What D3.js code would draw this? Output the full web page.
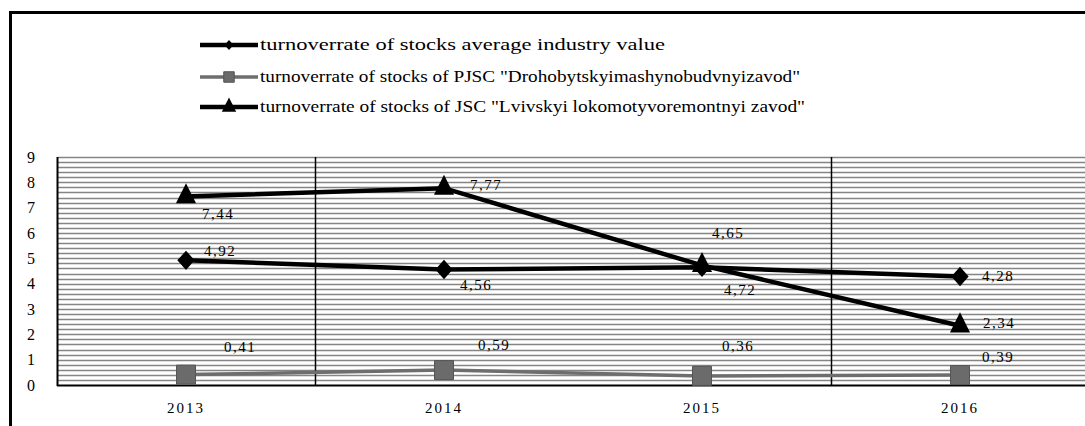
<!DOCTYPE html>
<html>
<head>
<meta charset="utf-8">
<script src="https://cdn.jsdelivr.net/npm/d3@7"></script>
<style>
  html, body { margin: 0; padding: 0; background: #fff; }
  svg text { font-family: "Liberation Serif", "Times New Roman", serif; fill: #000; }
</style>
</head>
<body>
<svg id="chart" width="1085" height="426"></svg>
<script>
/* data */
const years = ['2013', '2014', '2015', '2016'];
const averageIndustry = [4.92, 4.56, 4.65, 4.28];
const drohobytskyi = [0.41, 0.59, 0.36, 0.39];
const lvivskyi = [7.44, 7.77, 4.72, 2.34];
const yTicks = [0, 1, 2, 3, 4, 5, 6, 7, 8, 9];
const seriesNames = [
  'turnoverrate of stocks  average industry value',
  'turnoverrate of stocks of PJSC  "Drohobytskyimashynobudvnyizavod"',
  'turnoverrate of stocks of JSC  "Lvivskyi lokomotyvoremontnyi zavod"',
];

/* label placement (dx, dy from the point) per series and year */
const labelOffsets = [
  [[34, -8], [32, 17], [26, -33], [38, 1]],
  [[54, -26], [50, -23], [36, -28], [38, -17]],
  [[32, 19], [42, -2], [38, 26], [39, -1]],
];

const width = 1085;
const height = 426;
const svg = d3.select('#chart');

const x = d3.scaleBand().domain(years).range([57, 1089]).padding(0);
const y = d3.scaleLinear().domain([0, 9]).range([385, 157]);
const cx = (d, i) => x(years[i]) + x.bandwidth() / 2;

/* outer frame */
svg.append('path')
  .attr('d', `M10.5,${height} V12.5 H${width}`)
  .attr('fill', 'none')
  .attr('stroke', '#000')
  .attr('stroke-width', 3);

/* minor horizontal grid, every 0.2 */
const gridValues = d3.range(1, 46).map((k) => k * 0.2);
svg.append('g')
  .selectAll('line')
  .data(gridValues)
  .join('line')
  .attr('x1', 58)
  .attr('x2', width)
  .attr('y1', (d) => Math.round(y(d)) + 0.5)
  .attr('y2', (d) => Math.round(y(d)) + 0.5)
  .attr('stroke', '#858585')
  .attr('stroke-width', 1.3);

/* vertical lines at every other category border */
svg.append('g')
  .selectAll('line')
  .data(['2014', '2016'])
  .join('line')
  .attr('x1', (d) => Math.round(x(d)) + 0.5)
  .attr('x2', (d) => Math.round(x(d)) + 0.5)
  .attr('y1', y(9))
  .attr('y2', y(0))
  .attr('stroke', '#000')
  .attr('stroke-width', 1.5);

/* axes lines */
svg.append('line')
  .attr('x1', 57.5).attr('x2', 57.5)
  .attr('y1', y(9)).attr('y2', y(0) + 1)
  .attr('stroke', '#000').attr('stroke-width', 2);
svg.append('line')
  .attr('x1', 57).attr('x2', width)
  .attr('y1', y(0) + 0.5).attr('y2', y(0) + 0.5)
  .attr('stroke', '#000').attr('stroke-width', 2);

/* y tick labels */
svg.append('g')
  .selectAll('text')
  .data(yTicks)
  .join('text')
  .attr('x', 31)
  .attr('y', (d) => y(d) + 2)
  .attr('text-anchor', 'middle')
  .attr('dominant-baseline', 'middle')
  .attr('font-size', 16)
  .text((d) => d);

/* x tick labels */
svg.append('g')
  .selectAll('text')
  .data(years)
  .join('text')
  .attr('x', (d) => x(d) + x.bandwidth() / 2)
  .attr('y', 410)
  .attr('text-anchor', 'middle')
  .attr('dominant-baseline', 'middle')
  .attr('font-size', 15)
  .attr('letter-spacing', 2)
  .text((d) => d);

/* lines */
const line = d3.line().x(cx).y((d) => y(d));
const series = [
  { values: averageIndustry, stroke: '#000', width: 4.5, fill: '#000',
    marker: d3.symbolSquare, size: 150, shape: ' rotate(45)', pre: ' scale(1,1.12)' },
  { values: drohobytskyi, stroke: '#6e6e6e', width: 3.5, fill: '#6b6b6b',
    marker: d3.symbolSquare, size: 361, shape: '', pre: '' },
  { values: lvivskyi, stroke: '#000', width: 4.5, fill: '#000',
    marker: d3.symbolTriangle, size: 175, shape: '', pre: ' scale(1,1.15)' },
];

const drawOrder = [1, 0, 2];
drawOrder.forEach((si) => {
  const s = series[si];
  svg.append('path')
    .datum(s.values)
    .attr('d', line)
    .attr('fill', 'none')
    .attr('stroke', s.stroke)
    .attr('stroke-width', s.width);
});

drawOrder.forEach((si) => {
  const s = series[si];
  svg.append('g')
    .selectAll('path')
    .data(s.values)
    .join('path')
    .attr('transform', (d, i) => `translate(${cx(d, i)},${y(d)})${s.pre}${s.shape}`)
    .attr('d', d3.symbol().type(s.marker).size(s.size))
    .attr('fill', s.fill)
    .attr('stroke', si === 1 ? '#555' : 'none')
    .attr('stroke-width', 1);
});

/* data labels */
series.forEach((s, si) => {
  svg.append('g')
    .selectAll('text')
    .data(s.values)
    .join('text')
    .attr('x', (d, i) => cx(d, i) + labelOffsets[si][i][0])
    .attr('y', (d, i) => y(d) + labelOffsets[si][i][1])
    .attr('text-anchor', 'middle')
    .attr('dominant-baseline', 'middle')
    .attr('font-size', 15)
    .attr('letter-spacing', 1.5)
    .text((d) => d3.format('.2f')(d).replace('.', ','));
});

/* legend */
const legendY = [45, 77, 107];
const legendTextLen = [405, 540, 545];
const legendSizes = [40, 110, 90];
const legend = svg.append('g');
series.forEach((s, si) => {
  const g = legend.append('g').attr('transform', `translate(0,${legendY[si]})`);
  g.append('line')
    .attr('x1', 200).attr('x2', 258)
    .attr('stroke', s.stroke)
    .attr('stroke-width', s.width);
  g.append('path')
    .attr('transform', `translate(229,0)${s.pre}${s.shape}`)
    .attr('d', d3.symbol().type(s.marker).size(legendSizes[si]))
    .attr('fill', s.fill)
    .attr('stroke', si === 1 ? '#555' : 'none');
  g.append('text')
    .attr('x', 260)
    .attr('y', 1)
    .attr('dominant-baseline', 'middle')
    .attr('font-size', 16)
    .attr('textLength', legendTextLen[si])
    .attr('lengthAdjust', 'spacingAndGlyphs')
    .text(seriesNames[si]);
});
</script>
</body>
</html>
